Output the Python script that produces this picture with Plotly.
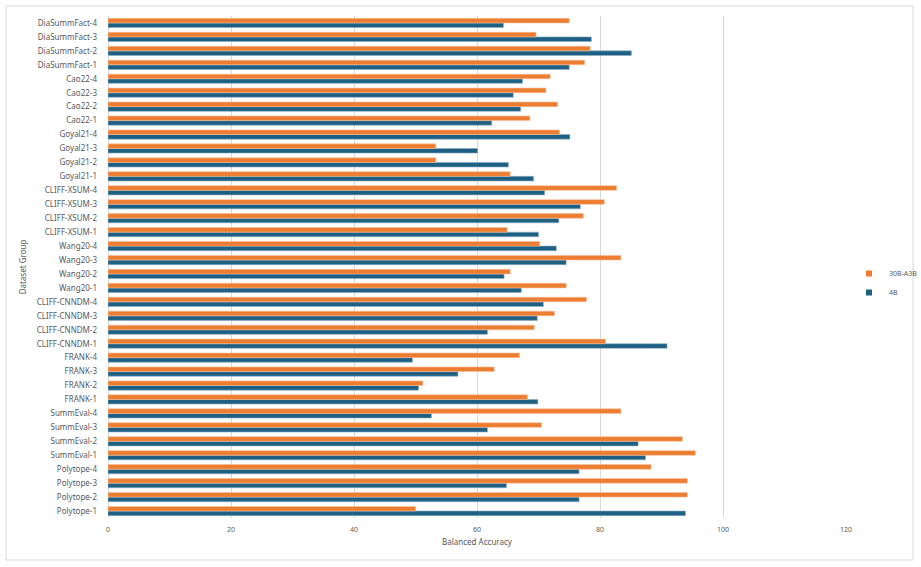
import plotly.graph_objects as go

categories = [
    "Polytope-1", "Polytope-2", "Polytope-3", "Polytope-4",
    "SummEval-1", "SummEval-2", "SummEval-3", "SummEval-4",
    "FRANK-1", "FRANK-2", "FRANK-3", "FRANK-4",
    "CLIFF-CNNDM-1", "CLIFF-CNNDM-2", "CLIFF-CNNDM-3", "CLIFF-CNNDM-4",
    "Wang20-1", "Wang20-2", "Wang20-3", "Wang20-4",
    "CLIFF-XSUM-1", "CLIFF-XSUM-2", "CLIFF-XSUM-3", "CLIFF-XSUM-4",
    "Goyal21-1", "Goyal21-2", "Goyal21-3", "Goyal21-4",
    "Cao22-1", "Cao22-2", "Cao22-3", "Cao22-4",
    "DiaSummFact-1", "DiaSummFact-2", "DiaSummFact-3", "DiaSummFact-4",
]

values_30b = [
    50.0, 94.2, 94.2, 88.3,
    95.5, 93.4, 70.5, 83.4,
    68.2, 51.2, 62.8, 66.9,
    80.9, 69.3, 72.6, 77.8,
    74.5, 65.4, 83.4, 70.2,
    64.9, 77.3, 80.7, 82.7,
    65.4, 53.3, 53.3, 73.4,
    68.6, 73.1, 71.2, 71.9,
    77.5, 78.4, 69.6, 75.0,
]

values_4b = [
    93.9, 76.6, 64.8, 76.6,
    87.4, 86.2, 61.7, 52.6,
    69.9, 50.5, 56.9, 49.5,
    90.9, 61.7, 69.8, 70.8,
    67.2, 64.4, 74.5, 72.9,
    70.0, 73.3, 76.8, 71.0,
    69.2, 65.1, 60.1, 75.1,
    62.4, 67.1, 65.9, 67.4,
    75.0, 85.1, 78.6, 64.3,
]

x_ticks = [0, 20, 40, 60, 80, 100, 120]

ORANGE = "#ED7D31"
BLUE = "#1E5F84"
TXT = "#595959"
FONT = "Noto Sans"

fig = go.Figure()
fig.add_trace(go.Bar(
    y=categories, x=values_4b, name="4B", orientation="h",
    marker=dict(color=BLUE, line=dict(color="#8FB0C4", width=0.6)),
    showlegend=False, legendgroup="4b",
))
fig.add_trace(go.Bar(
    y=categories, x=values_30b, name="30B-A3B", orientation="h",
    marker=dict(color=ORANGE, line=dict(color="#F6BE98", width=0.6)),
    showlegend=False, legendgroup="30b",
))
# legend entries with small square symbols
fig.add_trace(go.Scatter(
    x=[None], y=[None], mode="markers", name="4B", legendgroup="4b",
    marker=dict(symbol="square", size=6, color=BLUE),
))
fig.add_trace(go.Scatter(
    x=[None], y=[None], mode="markers", name="30B-A3B", legendgroup="30b",
    marker=dict(symbol="square", size=6, color=ORANGE),
))

W, H = 921, 567
L, R, T, B = 108, 75, 16, 49
pw, ph = W - L - R, H - T - B

def px_x(p):
    return (p - L) / pw

def px_y(p):
    return (H - B - p) / ph

fig.update_layout(
    width=W, height=H,
    margin=dict(l=L, r=R, t=T, b=B, pad=0, autoexpand=False),
    paper_bgcolor="white", plot_bgcolor="white",
    barmode="group", bargap=0.34, bargroupgap=0.0,
    font=dict(family=FONT, size=8, color=TXT),
    showlegend=True,
    legend=dict(
        x=px_x(849), y=px_y(283), xanchor="left", yanchor="middle",
        traceorder="reversed", font=dict(family=FONT, size=7, color=TXT),
        itemwidth=30, tracegroupgap=0, bgcolor="rgba(0,0,0,0)",
        borderwidth=0,
    ),
    xaxis=dict(
        range=[0, 120], tickvals=x_ticks, ticktext=[str(t) for t in x_ticks],
        showgrid=True, gridcolor="#D9D9D9", gridwidth=1,
        zeroline=True, zerolinecolor="#D9D9D9", zerolinewidth=1,
        showline=False, ticks="", ticklabelstandoff=6,
        tickfont=dict(family=FONT, size=7, color=TXT),
        title=dict(text="Balanced Accuracy", standoff=6,
                   font=dict(family=FONT, size=8, color=TXT)),
        fixedrange=True,
    ),
    yaxis=dict(
        categoryorder="array", categoryarray=categories,
        showgrid=False, zeroline=False, showline=False, ticks="",
        ticklabelstandoff=10,
        tickfont=dict(family=FONT, size=8, color=TXT),
        title=dict(text="Dataset Group", standoff=8,
                   font=dict(family=FONT, size=8, color=TXT)),
        range=[-0.5, len(categories) - 0.5],
        fixedrange=True,
    ),
    shapes=[dict(
        type="rect", xref="paper", yref="paper",
        x0=px_x(6), x1=px_x(913), y0=px_y(560), y1=px_y(6),
        line=dict(color="#D9D9D9", width=1), fillcolor="rgba(0,0,0,0)",
        layer="below",
    )],
)

fig.write_html("out.html")
